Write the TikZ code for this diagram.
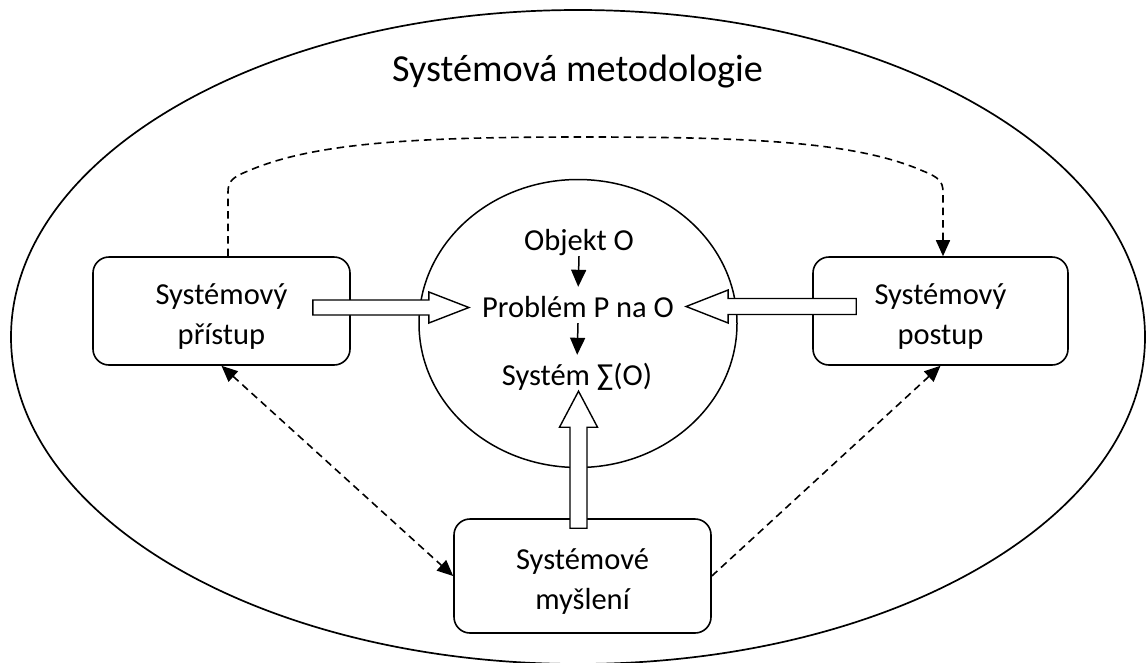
\documentclass[tikz,border=0pt]{standalone}
\usepackage{fontspec}
\setmainfont{Carlito}
\usetikzlibrary{arrows.meta,calc,shapes.geometric}

\newcommand\stagefont{\fontsize{30.5}{40}\selectfont}
\newcommand\headfont{\fontsize{38.2}{46}\selectfont}
% lifts the first line of a stage label so the two lines sit lower in the box
\newcommand\stagestrut{\rule{0pt}{31pt}}

% white block arrow from tail #1 to tip #2:
% #3 half shaft width, #4 half head width, #5 head length
\newcommand\blockarr[5]{%
  \path (#2) coordinate (bP) ($(#2)!#5!(#1)$) coordinate (bH);
  \draw[blockarrow]
    ($(#1)!#3!90:(bP)$) -- ($(bH)!#3!-90:(#1)$) -- ($(bH)!#4!-90:(#1)$) -- (bP)
    -- ($(bH)!#4!90:(#1)$) -- ($(bH)!#3!90:(#1)$) -- ($(#1)!#3!-90:(bP)$) -- cycle;}

\begin{document}
\begin{tikzpicture}[x=1pt,y=-1pt,
  outline/.style={draw, ellipse, line width=1.7pt, inner sep=0pt},
  stagebox/.style={draw, line width=1.6pt, rounded corners=16pt, fill=white,
    align=center, inner sep=0pt, font=\stagefont},
  ctext/.style={inner sep=0pt, text height=22pt, text depth=6pt,
    font=\stagefont, anchor=base},
  flow/.style={line width=1.5pt, -{Triangle[length=17pt,width=15pt]}, shorten >=8pt},
  dashlink/.style={line width=1.6pt, dash pattern=on 7.5pt off 5pt},
  dtip/.tip={Triangle[length=16pt,width=14pt]},
  blockarrow/.style={draw, fill=white, line width=1.4pt, line join=miter}
]
\useasboundingbox (0,0) rectangle (1146,662);

% outer methodology ellipse and inner core
\node[outline, minimum width=1134pt, minimum height=654pt] (frame) at (578,337) {};
\node[outline, line width=1.5pt, minimum width=318pt, minimum height=288pt] (core) at (578,323.5) {};

\node[font=\headfont, inner sep=0pt, anchor=base] (title) at (577.5,81) {Systémová metodologie};

% the three stages
\node[stagebox, minimum width=257pt, minimum height=108pt] (lbox) at (221.5,311) {\stagestrut Systémový\\přístup};
\node[stagebox, minimum width=255pt, minimum height=108pt] (rbox) at (940.5,311) {\stagestrut Systémový\\postup};
\node[stagebox, minimum width=257pt, minimum height=114pt] (mbox) at (582.5,576) {\stagestrut Systémové\\myšlení};

% core chain
\node[ctext] (obj) at (579,250) {Objekt O};
\node[ctext] (prob) at (578,317) {Problém P na O};
\node[ctext] (sys) at (577,385) {Systém ∑(O)};
\draw[flow] (obj.south) -- (prob.north);
\draw[flow] (prob.south) -- (sys.north);

% block arrows into the core
\coordinate (aLt) at ($(lbox.east)+(-38,-3.5)$);
\coordinate (aLh) at ($(aLt -| prob.west)+(-13,0)$);
\blockarr{aLt}{aLh}{7.5pt}{15.5pt}{40pt}
\coordinate (aRt) at ($(rbox.west)+(44,-4.5)$);
\coordinate (aRh) at ($(aRt -| prob.east)+(12,0)$);
\blockarr{aRt}{aRh}{8pt}{16.5pt}{42pt}
\coordinate (aUt) at ($(mbox.north)+(-4,10)$);
\coordinate (aUh) at (aUt |- sys.south);
\blockarr{aUt}{aUh}{8.5pt}{19pt}{36pt}

% dashed links between the stages
\draw[dashlink, -dtip] ([xshift=6.5pt]lbox.north) -- (228,192)
  .. controls (228,181) and (233,177) .. (248,171)
  .. controls (315,142) and (420,137) .. (586,137)
  .. controls (752,137) and (857,142) .. (923,171)
  .. controls (938,177) and (943,181) .. (943,192)
  -- ([xshift=2.5pt]rbox.north);
\draw[dashlink, dtip-dtip] (lbox.south) -- (mbox.west);
\draw[dashlink, -dtip] (mbox.east) -- (rbox.south);
\end{tikzpicture}
\end{document}
